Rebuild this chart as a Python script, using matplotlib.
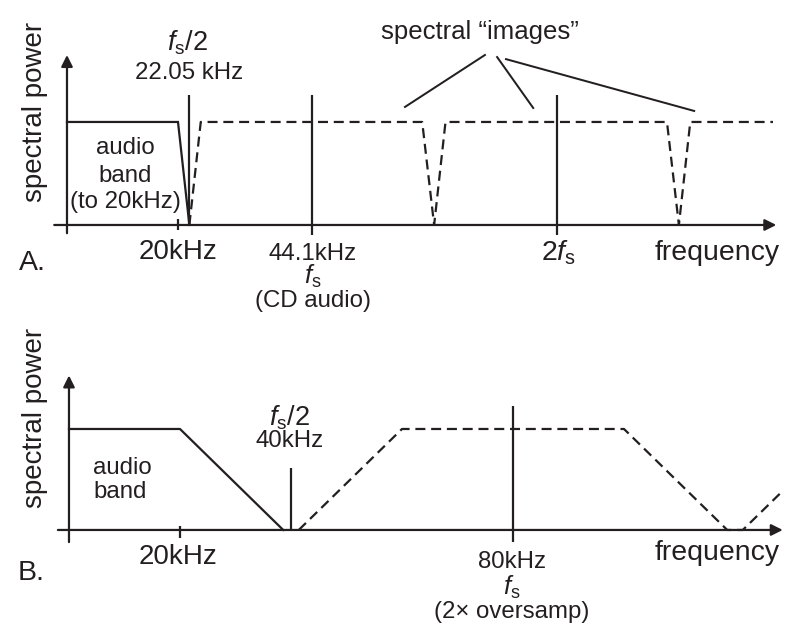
import matplotlib

matplotlib.use("Agg")
import matplotlib.pyplot as plt

plt.rcParams["font.family"] = ["Liberation Sans", "DejaVu Sans"]
plt.rcParams["mathtext.fontset"] = "custom"
plt.rcParams["mathtext.rm"] = "Liberation Sans"
plt.rcParams["mathtext.it"] = "Liberation Sans:italic"

INK = "#231f20"
LW = 1.6
DASH = (0, (4.5, 2.6))

# ---- Panel A: CD audio, fs = 44.1 kHz (frequency in kHz, power normalised) ----
a_audio_f = [0, 20, 22.05]
a_audio_p = [1, 1, 0]
a_image_f = [22.05, 24.1, 64.0, 66.15, 68.2, 108.1, 110.25, 112.3, 127.2]
a_image_p = [0, 1, 1, 0, 1, 1, 0, 1, 1]
a_marks_f = [22.05, 44.1, 88.2]          # fs/2, fs, 2fs
a_marks_lo = [0, -0.1, -0.1]
a_marks_hi = [1.26, 1.26, 1.26]
# leader lines from the "images" label
a_lead_x = [(60.9, 75.3), (77.5, 84.0), (79.1, 113.0)]
a_lead_y = [(1.146, 1.65), (1.63, 1.136), (1.61, 1.107)]

# ---- Panel B: 2x oversampling, fs = 80 kHz ----
b_audio_f = [0, 20, 38.6]
b_audio_p = [1, 1, 0]
b_image_f = [41.4, 60, 100, 118.6, 121.4, 128.1]
b_image_p = [0, 1, 1, 0, 0, 0.36]
b_marks_f = [40, 80]                     # fs/2, fs
b_marks_lo = [0, -0.12]
b_marks_hi = [0.61, 1.23]

fig = plt.figure(figsize=(7.95, 6.36), dpi=100)
axA = fig.add_axes([0, 0.5, 1, 0.5])
axB = fig.add_axes([0, 0, 1, 0.5])
axA.set_xlim(-12.07, 131.17); axA.set_ylim(-0.903, 2.184)
axB.set_xlim(-12.43, 130.81); axB.set_ylim(-1.05, 2.099)
for ax in (axA, axB):
    ax.set_axis_off()


def arrow(ax, x0, y0, x1, y1):
    ax.annotate("", xy=(x1, y1), xytext=(x0, y0),
                arrowprops=dict(arrowstyle="-|>", lw=LW, color=INK,
                                mutation_scale=17, shrinkA=0, shrinkB=0))


def txt(ax, x, y, s, size=17.3, ha="center", **kw):
    ax.text(x, y, s, fontsize=size, ha=ha, va="center", color=INK, **kw)


# --- A ---
arrow(axA, -2.3, 0, 127.8, 0)
arrow(axA, 0, -0.08, 0, 1.65)
axA.plot(a_audio_f, a_audio_p, color=INK, lw=LW, solid_joinstyle="miter")
axA.plot(a_image_f, a_image_p, color=INK, lw=LW, ls=DASH)
axA.vlines(a_marks_f, a_marks_lo, a_marks_hi, color=INK, lw=LW)
axA.vlines([20], [-0.05], [0.06], color=INK, lw=LW)
for xs, ys in zip(a_lead_x, a_lead_y):
    axA.plot(xs, ys, color=INK, lw=LW * 0.9)

txt(axA, -5.77, 1.097, "spectral power", size=20, rotation=90)
txt(axA, 21.8, 1.77, r"$f_{\rm s}/2$", size=19.5)
txt(axA, 22.0, 1.476, "22.05 kHz")
txt(axA, 10.45, 0.748, "audio")
txt(axA, 10.45, 0.476, "band")
txt(axA, 10.45, 0.223, "(to 20kHz)")
txt(axA, 20.0, -0.262, "20kHz", size=20)
txt(axA, 44.3, -0.28, "44.1kHz")
txt(axA, 44.3, -0.50, r"$f_{\rm s}$", size=18.5)
txt(axA, 44.3, -0.74, "(CD audio)")
txt(axA, 88.5, -0.272, r"2$f_{\rm s}$", size=20.5)
txt(axA, 117.1, -0.272, "frequency", size=20.5)
txt(axA, -8.65, -0.369, "A.", size=20.5, ha="left")
txt(axA, 74.4, 1.874, "spectral \u201cimages\u201d", size=18.5)

# --- B ---
arrow(axB, -2.0, 0, 128.6, 0)
arrow(axB, 0, -0.12, 0, 1.53)
axB.plot(b_audio_f, b_audio_p, color=INK, lw=LW)
axB.plot(b_image_f, b_image_p, color=INK, lw=LW, ls=DASH)
axB.vlines(b_marks_f, b_marks_lo, b_marks_hi, color=INK, lw=LW)
axB.vlines([20], [-0.08], [0.04], color=INK, lw=LW)

txt(axB, -6.13, 1.109, "spectral power", size=20, rotation=90)
txt(axB, 39.8, 1.11, r"$f_{\rm s}/2$", size=19.5)
txt(axB, 39.8, 0.88, "40kHz")
txt(axB, 4.32, 0.614, "audio", ha="left")
txt(axB, 4.32, 0.376, "band", ha="left")
txt(axB, 19.6, -0.267, "20kHz", size=20)
txt(axB, -9.19, -0.426, "B.", size=20.5, ha="left")
txt(axB, 79.8, -0.32, "80kHz")
txt(axB, 79.8, -0.565, r"$f_{\rm s}$", size=18.5)
txt(axB, 79.8, -0.81, "(2\u00d7 oversamp)")
txt(axB, 116.8, -0.228, "frequency", size=20.5)

fig.savefig("out.png", dpi=100, facecolor="white")
